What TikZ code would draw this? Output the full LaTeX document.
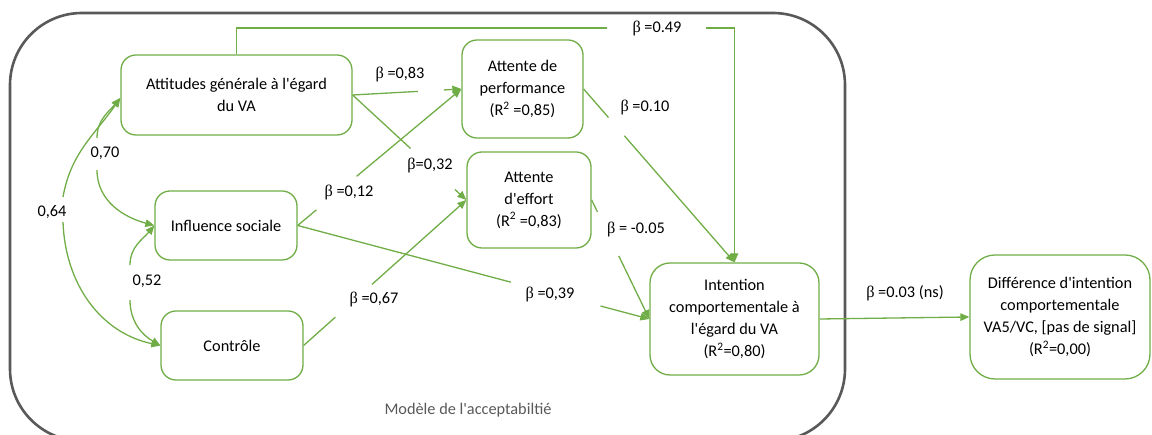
\documentclass[tikz,border=0pt]{standalone}
\usepackage{fontspec}
\setmainfont{Carlito}
\newfontfamily\symf{Liberation Serif}
\usetikzlibrary{arrows.meta,calc}
\definecolor{vgreen}{HTML}{70AD47}
\definecolor{frame}{HTML}{595959}
\newcommand{\bt}{{\symf β}}
\newcommand{\q}{\textquotesingle}
\begin{document}
\begin{tikzpicture}[x=1pt,y=1pt,
  font=\fontsize{16.3}{22}\selectfont,
  box/.style={draw=vgreen,line width=1.3pt,rounded corners=15pt,align=center,inner sep=0pt},
  conn/.style={draw=vgreen,line width=1.3pt},
  arr/.style={conn,-{Triangle[length=9pt,width=7.5pt]}},
  lab/.style={inner sep=1pt,text=black}]
\useasboundingbox (0,0) rectangle (1152,435);
% outer frame
\draw[frame,line width=2.6pt,rounded corners=72pt] (10,-6) rectangle (845,422);
\node[text=frame] (model) at (468,25) {Modèle de l\q acceptabiltié};
% nodes
\node[box,minimum width=231pt,minimum height=80pt] (att) at (236.5,340) {Attitudes générale à l\q égard\\du VA};
\node[box,minimum width=121pt,minimum height=98pt] (perf) at (522.5,346) {Attente de\\performance\\(R\textsuperscript{2} =0,85)};
\node[box,minimum width=124pt,minimum height=96pt] (eff) at (529,235) {Attente\\d\q effort\\(R\textsuperscript{2} =0,83)};
\node[box,minimum width=142pt,minimum height=69pt] (inf) at (226,209.5) {Influence sociale};
\node[box,minimum width=142pt,minimum height=69pt] (ctrl) at (232,89.5) {Contrôle};
\node[box,minimum width=169pt,minimum height=112pt,rounded corners=20pt] (int) at (734.5,116) {Intention\\comportementale à\\l\q égard du VA\\(R\textsuperscript{2}=0,80)};
\node[box,minimum width=180pt,minimum height=124pt,rounded corners=25pt] (diff) at (1060,118) {Différence d\q intention\\comportementale\\VA5/VC, [pas de signal]\\(R\textsuperscript{2}=0,00)};
% labels
\node[lab] (l49) at (657,406) {\bt\ =0.49};
\node[lab] (l83) at (400,360) {\bt\ =0,83};
\node[lab] (l32) at (430,269) {\bt=0,32};
\node[lab] (l12) at (349,242) {\bt\ =0,12};
\node[lab] (l67) at (374,135) {\bt\ =0,67};
\node[lab] (l39) at (550,140) {\bt\ =0,39};
\node[lab] (l05) at (636,205) {\bt\ = -0.05};
\node[lab] (l10) at (645,327) {\bt\ =0.10};
\node[lab] (l03) at (905,142) {\bt\ =0.03 (ns)};
\node[lab] (l70) at (105,282) {0,70};
\node[lab] (l64) at (52,223) {0,64};
\node[lab] (l52) at (147,154) {0,52};
% beta 0.49
\coordinate (a49) at (607,407);
\coordinate (b49) at (706,407);
\draw[conn] (att.north) |- (a49);
\draw[arr] (b49) -| (int.north);
% 0,83
\draw[conn] (att.east) -- ($(att.east)!0.6!(perf.west)$);
\draw[arr] ($(att.east)!0.84!(perf.west)$) -- (perf.west);
% 0,32
\draw[conn] (att.east) -- ($(att.east)!0.51!(eff.west)$);
\draw[arr] ($(att.east)!0.9!(eff.west)$) -- (eff.west);
% 0,12
\draw[conn] (inf.east) -- ($(inf.east)!0.115!(perf.west)$);
\draw[arr] ($(inf.east)!0.36!(perf.west)$) -- (perf.west);
% 0,67
\draw[conn] (ctrl.east) -- ($(ctrl.east)!0.195!(eff.west)$);
\draw[arr] ($(ctrl.east)!0.42!(eff.west)$) -- (eff.west);
% 0,39
\draw[conn] (inf.east) -- ($(inf.east)!0.606!(int.west)$);
\draw[arr] ($(inf.east)!0.861!(int.west)$) -- (int.west);
% -0.05
\draw[conn] (eff.east) -- ($(eff.east)!0.1!(int.west)$);
\draw[arr] ($(eff.east)!0.47!(int.west)$) -- (int.west);
% 0.10
\draw[conn] (perf.east) -- ($(perf.east)!0.165!(int.north)$);
\draw[arr] ($(perf.east)!0.27!(int.north)$) -- (int.north);
% 0.03
\draw[arr] (int.east) -- (diff.west);
% correlations
\coordinate (c70u) at (97,297);
\coordinate (c70d) at (97,265);
\coordinate (c64u) at (63,238);
\coordinate (c64d) at (63,213);
\coordinate (c52u) at (130,170);
\coordinate (c52d) at (130,135);
\draw[arr] (c70u) to[out=90,in=-130] ([yshift=-3pt]att.west);
\draw[arr] (c70d) to[out=-90,in=165] (inf.west);
\draw[arr] (c64u) to[out=80,in=-125] ([yshift=-3pt]att.west);
\draw[arr] (c64d) to[out=-88,in=168] (ctrl.west);
\draw[arr] (c52u) to[out=90,in=-130] (inf.west);
\draw[arr] (c52d) to[out=-90,in=150] (ctrl.west);
\end{tikzpicture}
\end{document}
